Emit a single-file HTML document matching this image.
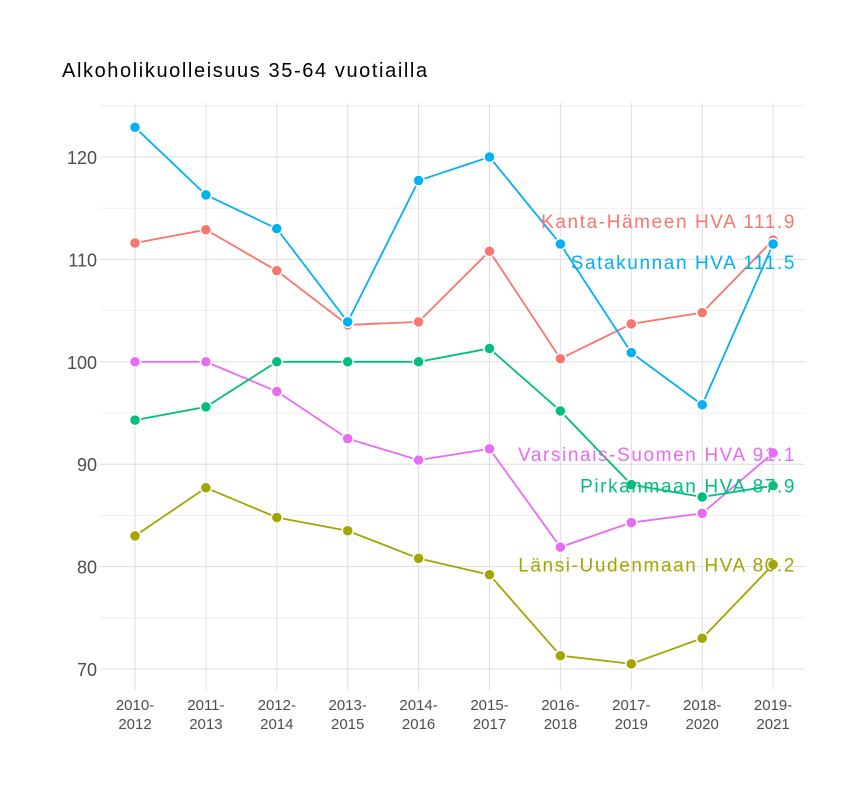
<!DOCTYPE html>
<html><head><meta charset="utf-8">
<style>
html,body{margin:0;padding:0;background:#fff;}
svg{display:block;font-family:"Liberation Sans",sans-serif;}
</style></head>
<body>
<svg id="chart" width="864" height="792" viewBox="0 0 864 792" xmlns="http://www.w3.org/2000/svg">
<text x="62" y="77" font-size="20" letter-spacing="1.6" fill="#000">Alkoholikuolleisuus 35-64 vuotiailla</text>
<g id="grid"></g><g id="axes"></g><g id="series"></g><g id="labels"></g>
</svg>
<script>
const categories = ["2010-|2012","2011-|2013","2012-|2014","2013-|2015","2014-|2016","2015-|2017","2016-|2018","2017-|2019","2018-|2020","2019-|2021"];
const yTicks = [70,80,90,100,110,120];
const seriesNames = ["Kanta-Hämeen HVA","Satakunnan HVA","Varsinais-Suomen HVA","Pirkanmaan HVA","Länsi-Uudenmaan HVA"];
const seriesColors = ["#F8766D","#00B0F6","#E76BF3","#00BF7D","#A3A500"];
const kanta = [111.6,112.9,108.9,103.6,103.9,110.8,100.3,103.7,104.8,111.9];
const satakunta = [122.9,116.3,113.0,103.9,117.7,120.0,111.5,100.9,95.8,111.5];
const varsinais = [100,100,97.1,92.5,90.4,91.5,81.9,84.3,85.2,91.1];
const pirkanmaa = [94.3,95.6,100,100,100,101.3,95.2,88.0,86.8,87.9];
const lansi = [83.0,87.7,84.8,83.5,80.8,79.2,71.3,70.5,73.0,80.2];
const labelDy = [-19,18,1,0,0];

const NS="http://www.w3.org/2000/svg";
const data=[kanta,satakunta,varsinais,pirkanmaa,lansi];
const x0=135, xStep=70.9;
function xs(i){return x0+i*xStep;}
function ys(v){return 157+(120-v)*10.24;}
function mk(tag,attrs,parent){const e=document.createElementNS(NS,tag);for(const k in attrs)e.setAttribute(k,attrs[k]);parent.appendChild(e);return e;}
const grid=document.getElementById('grid'),axes=document.getElementById('axes'),ser=document.getElementById('series'),lab=document.getElementById('labels');
const L=100,R=805,T=103,B=690;
for(let v=75;v<=125;v+=10){const y=ys(v);if(y<T||y>B)continue;const l=mk('line',{x1:L,x2:R,y1:y,y2:y,stroke:'#ebebeb','stroke-width':0.8},grid);

}
yTicks.forEach(v=>{const y=ys(v);const l=mk('line',{x1:L,x2:R,y1:y,y2:y,stroke:'#dedede','stroke-width':1},grid);


const t=mk('text',{x:97,y:y+7,'text-anchor':'end','font-size':18,fill:'#4d4d4d'},axes);t.textContent=v;

});
categories.forEach((c,i)=>{const x=xs(i);const l=mk('line',{x1:x,x2:x,y1:T,y2:B,stroke:'#dedede','stroke-width':1},grid);


const parts=c.split('|');const t=mk('text',{'text-anchor':'middle','font-size':15,fill:'#4d4d4d'},axes);


parts.forEach((p,k)=>{const s=mk('tspan',{x:x,y:710+k*19},t);s.textContent=p;});});
data.forEach((arr,si)=>{const col=seriesColors[si];
const pl=mk('polyline',{points:arr.map((v,i)=>xs(i)+','+ys(v)).join(' '),fill:'none',stroke:col,'stroke-width':1.8},ser);

});
data.forEach((arr,si)=>{const col=seriesColors[si];
arr.forEach((v,i)=>{const c=mk('circle',{cx:xs(i),cy:ys(v),r:5.5,fill:col,stroke:'#fff','stroke-width':1.5},ser);

});
const last=arr[arr.length-1];
const t=mk('text',{x:796,y:ys(last)+labelDy[si]+7,'text-anchor':'end','font-size':19,'letter-spacing':1.6,fill:seriesColors[si]},lab);
t.textContent=seriesNames[si]+' '+last.toFixed(1);

});
</script>
</body></html>
